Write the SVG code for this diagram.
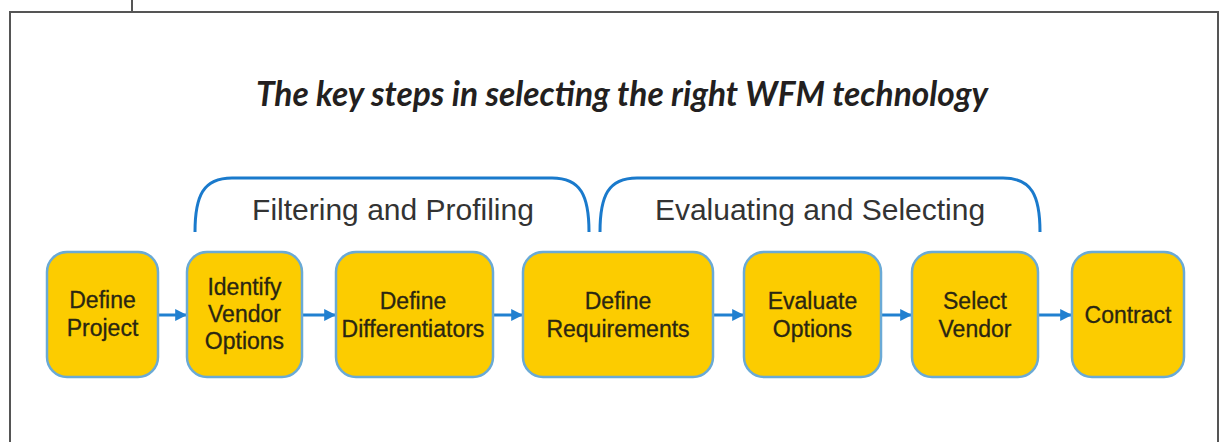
<svg xmlns="http://www.w3.org/2000/svg" width="1222" height="442" viewBox="0 0 1222 442">
  <defs>
    <style>
      .frame { fill: none; stroke: #555; stroke-width: 2; }
      .title { font-family: Lato, "Open Sans", sans-serif; font-weight: 700; font-style: italic; font-size: 33.5px; fill: #231f20; text-anchor: end; }
      .phase { font-family: "Liberation Sans", Arial, sans-serif; font-size: 30px; fill: #333; text-anchor: middle; }
      .bracket { fill: none; stroke: #1a7acc; stroke-width: 3; }
      .box { fill: #fccc00; stroke: #6aaad6; stroke-width: 2.5; }
      .label { font-family: "Liberation Sans", Arial, sans-serif; font-size: 23px; fill: #2a2612; stroke: #2a2612; stroke-width: 0.3; text-anchor: middle; }
      .arrow { fill: none; stroke: #2080d0; stroke-width: 3; }
    </style>
    <marker id="head" viewBox="0 0 10 10" refX="9" refY="5" markerWidth="4" markerHeight="4" orient="auto" markerUnits="strokeWidth">
      <path d="M0,0 L10,5 L0,10 Z" fill="#2080d0"/>
    </marker>
  </defs>

  <!-- page frame -->
  <g id="frame">
    <path class="frame" d="M10,442 L10,12 L1218,12 L1218,442"/>
    <line class="frame" x1="132" y1="0" x2="132" y2="12"/>
  </g>

  <text class="title" x="988" y="106">The key steps in selecting the right WFM technology</text>

  <!-- phase brackets -->
  <g id="phase-filtering">
    <path class="bracket" d="M195,232 C195,196 203,178 232,178 L552,178 C581,178 589,196 589,232"/>
    <text class="phase" x="393" y="220">Filtering and Profiling</text>
  </g>
  <g id="phase-evaluating">
    <path class="bracket" d="M600,232 C600,196 608,178 637,178 L1003,178 C1032,178 1040,196 1040,232"/>
    <text class="phase" x="820" y="220">Evaluating and Selecting</text>
  </g>

  <!-- connectors -->
  <g id="connectors">
    <line class="arrow" x1="158" y1="315" x2="186" y2="315" marker-end="url(#head)"/>
    <line class="arrow" x1="302" y1="315" x2="335" y2="315" marker-end="url(#head)"/>
    <line class="arrow" x1="493" y1="315" x2="522" y2="315" marker-end="url(#head)"/>
    <line class="arrow" x1="713" y1="315" x2="743" y2="315" marker-end="url(#head)"/>
    <line class="arrow" x1="881" y1="315" x2="911" y2="315" marker-end="url(#head)"/>
    <line class="arrow" x1="1038" y1="315" x2="1071" y2="315" marker-end="url(#head)"/>
  </g>

  <!-- process steps -->
  <g id="define-project">
    <rect class="box" x="47" y="252" width="111" height="125" rx="20"/>
    <text class="label" x="102.5" y="308">Define</text>
    <text class="label" x="102.5" y="336">Project</text>
  </g>
  <g id="identify-vendor-options">
    <rect class="box" x="187" y="252" width="115" height="125" rx="20"/>
    <text class="label" x="244.5" y="295">Identify</text>
    <text class="label" x="244.5" y="322">Vendor</text>
    <text class="label" x="244.5" y="349">Options</text>
  </g>
  <g id="define-differentiators">
    <rect class="box" x="336" y="252" width="157" height="125" rx="20"/>
    <text class="label" x="413" y="309">Define</text>
    <text class="label" x="413" y="337">Differentiators</text>
  </g>
  <g id="define-requirements">
    <rect class="box" x="523" y="252" width="190" height="125" rx="20"/>
    <text class="label" x="618" y="309">Define</text>
    <text class="label" x="618" y="337">Requirements</text>
  </g>
  <g id="evaluate-options">
    <rect class="box" x="744" y="252" width="137" height="125" rx="20"/>
    <text class="label" x="812.5" y="309">Evaluate</text>
    <text class="label" x="812.5" y="337">Options</text>
  </g>
  <g id="select-vendor">
    <rect class="box" x="912" y="252" width="126" height="125" rx="20"/>
    <text class="label" x="975" y="309">Select</text>
    <text class="label" x="975" y="337">Vendor</text>
  </g>
  <g id="contract">
    <rect class="box" x="1072" y="252" width="112" height="125" rx="20"/>
    <text class="label" x="1128" y="323">Contract</text>
  </g>
</svg>
